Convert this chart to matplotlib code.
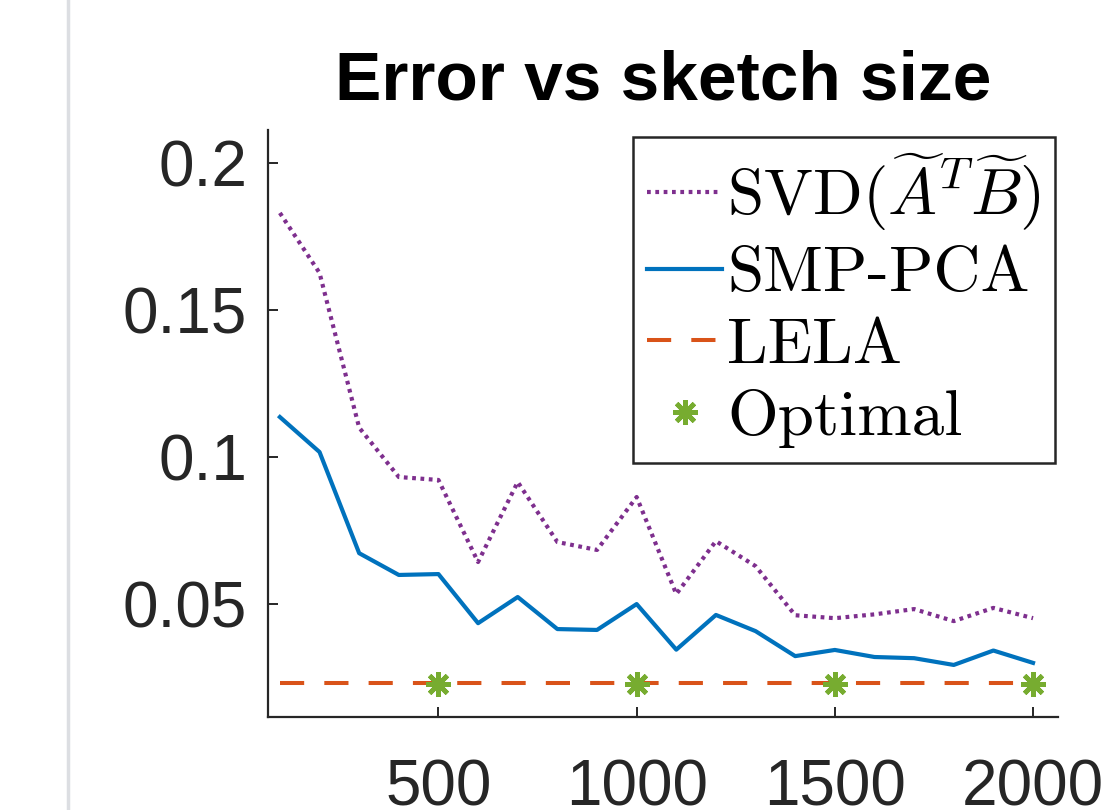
import numpy as np
import matplotlib
matplotlib.use("Agg")
import matplotlib.pyplot as plt
from matplotlib.lines import Line2D

# ── Data ──────────────────────────────────────────────────────────────────────
sketch = [100, 200, 300, 400, 500, 600, 700, 800, 900, 1000,
          1100, 1200, 1300, 1400, 1500, 1600, 1700, 1800, 1900, 2000]
err_svd = [0.183, 0.1626, 0.110, 0.0932, 0.0922, 0.0643, 0.0915, 0.0711, 0.0684, 0.0864,
           0.0534, 0.0714, 0.0629, 0.0462, 0.0452, 0.0465, 0.0483, 0.0442, 0.0487, 0.0452]
err_smp = [0.1136, 0.1017, 0.0673, 0.0599, 0.0602, 0.0435, 0.0524, 0.0415, 0.0412, 0.0500,
           0.0345, 0.0463, 0.0408, 0.0323, 0.0344, 0.0320, 0.0316, 0.0293, 0.0342, 0.0300]
err_lela = [0.0230, 0.0230, 0.0230, 0.0230, 0.0230, 0.0230, 0.0230, 0.0230, 0.0230, 0.0230,
            0.0230, 0.0230, 0.0230, 0.0230, 0.0230, 0.0230, 0.0230, 0.0230, 0.0230, 0.0230]
opt_x = [500, 1000, 1500, 2000]
opt_y = [0.0228, 0.0228, 0.0228, 0.0228]

labels = [r"SVD$(\widetilde{A}^T\widetilde{B})$", "SMP-PCA", "LELA", "Optimal"]
xticks = [500, 1000, 1500, 2000]
yticks = [0.05, 0.1, 0.15, 0.2]
ytick_labels = ["0.05", "0.1", "0.15", "0.2"]

# MATLAB default colours
C_BLUE = "#0072BD"
C_ORANGE = "#D95319"
C_PURPLE = "#7E2F8E"
C_GREEN = "#77AC30"
C_AXIS = "#262626"

plt.rcParams.update({
    "font.family": "Liberation Sans",
    "mathtext.fontset": "cm",
})

fig = plt.figure(figsize=(11.2, 8.1), dpi=100)
ax = fig.add_axes([268 / 1120, 1 - 717 / 810, (1058 - 268) / 1120, (717 - 130) / 810])

# page border line on the left
fig.add_artist(Line2D([68 / 1120, 68 / 1120], [0, 1], transform=fig.transFigure,
                      color="#dcdee2", lw=2.5))

ax.plot(sketch, err_svd, color=C_PURPLE, lw=3.0, linestyle=(0, (0.9, 1.1)), label=labels[0])
ax.plot(sketch, err_smp, color=C_BLUE, lw=3.0, label=labels[1])
ax.plot(sketch, err_lela, color=C_ORANGE, lw=2.9, linestyle=(0, (6.0, 5.0)), label=labels[2])
ax.plot(opt_x, opt_y, linestyle="none", marker=(8, 2, 0), ms=18, mew=3.4,
        color=C_GREEN, mec=C_GREEN, label=labels[3])

ax.set_xlim(70, 2063)
ax.set_ylim(0.0116, 0.2112)
ax.set_xticks(xticks)
ax.set_yticks(yticks)
ax.set_yticklabels(ytick_labels)

for s in ["top", "right"]:
    ax.spines[s].set_visible(False)
for s in ["left", "bottom"]:
    ax.spines[s].set_color(C_AXIS)
    ax.spines[s].set_linewidth(1.6)

ax.tick_params(axis="both", direction="in", length=7, width=1.4, colors=C_AXIS,
               labelsize=46, labelcolor=C_AXIS)
ax.tick_params(axis="y", pad=15)
ax.tick_params(axis="x", pad=30)

ax.set_title("Error vs sketch size", fontsize=50, fontweight="bold", pad=22)

leg = ax.legend(loc="upper right", bbox_to_anchor=(0.996, 0.988), borderaxespad=0,
                prop={"family": "cmr10", "size": 47}, handlelength=1.14,
                handletextpad=0.08, labelspacing=0.2, borderpad=0.22,
                fancybox=False, framealpha=1, edgecolor=C_AXIS)
leg.get_frame().set_linewidth(1.8)

fig.savefig("out.png", dpi=100)
